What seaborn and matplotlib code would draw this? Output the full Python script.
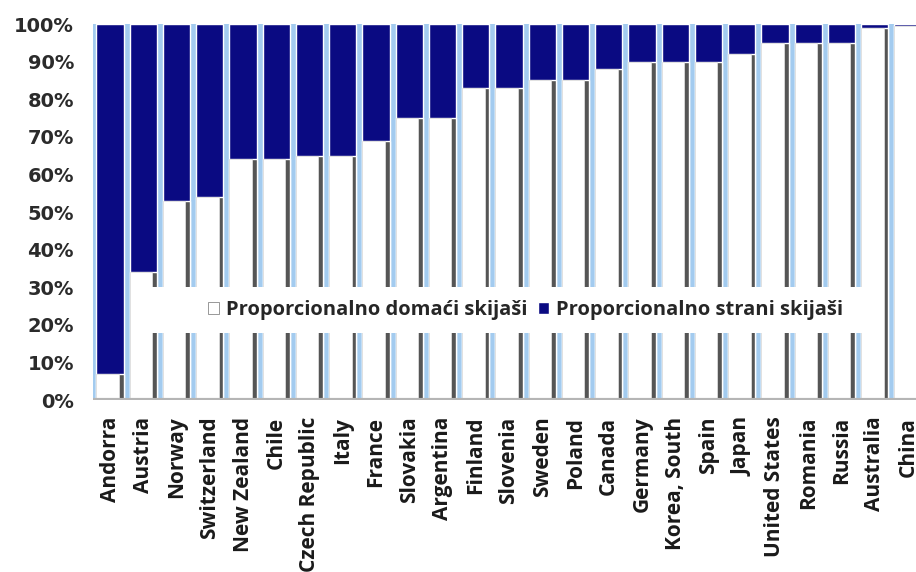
import matplotlib
matplotlib.use("Agg")
import matplotlib.pyplot as plt
from matplotlib.patches import Rectangle
import pandas as pd
import seaborn as sns

# Share of domestic skiers per country (%), foreign = 100 - domestic
countries = ["Andorra", "Austria", "Norway", "Switzerland", "New Zealand", "Chile",
             "Czech Republic", "Italy", "France", "Slovakia", "Argentina", "Finland",
             "Slovenia", "Sweden", "Poland", "Canada", "Germany", "Korea, South",
             "Spain", "Japan", "United States", "Romania", "Russia", "Australia", "China"]
domestic = [7, 34, 53, 54, 64, 64, 65, 65, 69, 75, 75, 83,
            83, 85, 85, 88, 90, 90, 90, 92, 95, 95, 95, 99, 99.5]
foreign = [100 - d for d in domestic]
y_ticks = [0, 10, 20, 30, 40, 50, 60, 70, 80, 90, 100]

label_dom = "Proporcionalno domaći skijaši"
label_for = "Proporcionalno strani skijaši"

NAVY = "#0a0a82"
GAP = "#a3cbef"
SHADOW = "#555555"

df = pd.DataFrame({"country": countries, "domestic": domestic, "foreign": foreign})
df["total"] = df["domestic"] + df["foreign"]

sns.set_style("white")
plt.rcParams["font.family"] = ["DejaVu Sans"]

fig = plt.figure(figsize=(9.16, 5.72), dpi=100)
W, H = 916, 572
x0, x1 = 93.4, 924.6
y_top, y_bot = 24, 400
ax = fig.add_axes([x0 / W, (H - y_bot) / H, (x1 - x0) / W, (y_bot - y_top) / H])
ax.set_facecolor(GAP)

BAR_W = 0.82
WHITE_W = 0.68
n = len(countries)

# full-height navy bar = foreign share on top of domestic share
sns.barplot(data=df, x="country", y="total", color=NAVY, width=BAR_W,
            saturation=1, ax=ax, label=label_for)
# shadow strip on the right of the domestic part
sns.barplot(data=df, x="country", y="domestic", color=SHADOW, width=BAR_W,
            saturation=1, ax=ax)
# domestic share in white, narrower and left-aligned so the shadow shows
sns.barplot(data=df, x="country", y="domestic", color="white", width=WHITE_W,
            saturation=1, ax=ax, label=label_dom)
for p in ax.patches[2 * n:3 * n]:
    p.set_x(p.get_x() - (BAR_W - WHITE_W) / 2)
    p.set_edgecolor("#dcdcdc")
    p.set_linewidth(0.6)

ax.set_xlim(-0.5, n - 0.5)
ax.set_ylim(0, 100)
ax.set_yticks(y_ticks)
ax.set_yticklabels([f"{v}%" for v in y_ticks], fontsize=14, fontweight="bold",
                   color="#2b2b2b")
ax.set_xticks(range(n))
ax.set_xticklabels(countries, rotation=90, fontsize=15, fontweight="bold",
                   family=["Open Sans", "DejaVu Sans"], color="#1a1a1a")
ax.tick_params(axis="y", length=0, pad=14)
ax.tick_params(axis="x", length=0, pad=12)
ax.set_xlabel("")
ax.set_ylabel("")
for s in ax.spines.values():
    s.set_visible(False)
ax.axhline(0, color="#b5b5b5", lw=3)

# white legend panel
ax.add_patch(Rectangle((0.068, 0.178), 0.86, 0.122, transform=ax.transAxes,
                       facecolor="white", edgecolor="none", zorder=4))

handles, labels = ax.get_legend_handles_labels()
order = [labels.index(label_dom), labels.index(label_for)]
leg = ax.legend([handles[i] for i in order], [labels[i] for i in order],
                loc="center", bbox_to_anchor=(0.52, 0.239), ncol=2,
                frameon=False, handlelength=0.55, handleheight=0.55,
                handletextpad=0.35, columnspacing=0.5,
                prop={"family": ["Open Sans", "DejaVu Sans"], "weight": "bold",
                      "size": 14.5})
leg.set_zorder(5)
leg.legend_handles[0].set_edgecolor("#888888")

fig.savefig("out.png", dpi=100)
